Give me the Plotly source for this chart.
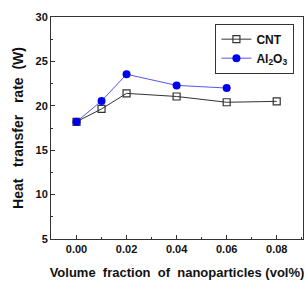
import plotly.graph_objects as go

x_cnt = [0.00, 0.01, 0.02, 0.04, 0.06, 0.08]
y_cnt = [18.2, 19.65, 21.4, 21.05, 20.4, 20.5]
x_al = [0.00, 0.01, 0.02, 0.04, 0.06]
y_al = [18.2, 20.55, 23.55, 22.3, 22.0]
x_ticks = [0.00, 0.02, 0.04, 0.06, 0.08]
x_ticklabels = ["0.00", "0.02", "0.04", "0.06", "0.08"]
y_ticks = [5, 10, 15, 20, 25, 30]

font_family = "Liberation Sans, Arial, sans-serif"

fig = go.Figure()
fig.add_trace(go.Scatter(
    x=x_cnt, y=y_cnt, mode="lines+markers", name="CNT",
    line=dict(color="#333333", width=1),
    marker=dict(symbol="square-open", size=7, color="#333333", line=dict(width=1.2)),
))
fig.add_trace(go.Scatter(
    x=x_al, y=y_al, mode="lines+markers", name="Al<sub>2</sub>O<sub>3</sub>",
    line=dict(color="#5555ee", width=1),
    marker=dict(symbol="circle", size=8, color="#0000ee"),
))

fig.update_layout(
    width=307, height=282,
    margin=dict(l=51, r=4, t=17, b=43),
    paper_bgcolor="white", plot_bgcolor="white",
    font=dict(family=font_family, color="#111111", size=11),
    showlegend=True,
    legend=dict(
        x=0.966, y=0.97, xanchor="right", yanchor="top",
        bordercolor="#333333", borderwidth=1, bgcolor="white",
        font=dict(size=12, family=font_family, weight="bold"),
        itemwidth=30, tracegroupgap=0, itemsizing="trace",
    ),
    xaxis=dict(
        range=[-0.0102, 0.0905],
        tickvals=x_ticks, ticktext=x_ticklabels,
        ticks="inside", ticklen=4, tickcolor="#333333",
        minor=dict(dtick=0.01, tick0=0, ticks="inside", ticklen=2, tickcolor="#333333"),
        showline=True, linecolor="#333333", linewidth=1, mirror=True,
        showgrid=False, zeroline=False,
        tickfont=dict(size=11, weight="bold"),
        title=dict(text="Volume  fraction  of  nanoparticles (vol%)",
                   font=dict(size=13, weight="bold"), standoff=13),
    ),
    yaxis=dict(
        range=[5, 30],
        tickvals=y_ticks,
        ticks="inside", ticklen=4, tickcolor="#333333",
        minor=dict(dtick=2.5, tick0=5, ticks="inside", ticklen=2, tickcolor="#333333"),
        showline=True, linecolor="#333333", linewidth=1, mirror=True,
        showgrid=False, zeroline=False,
        tickfont=dict(size=11, weight="bold"),
        title=dict(text="Heat   transfer   rate  (W)",
                   font=dict(size=14, weight="bold"), standoff=8),
    ),
)

fig.write_html("out.html")
